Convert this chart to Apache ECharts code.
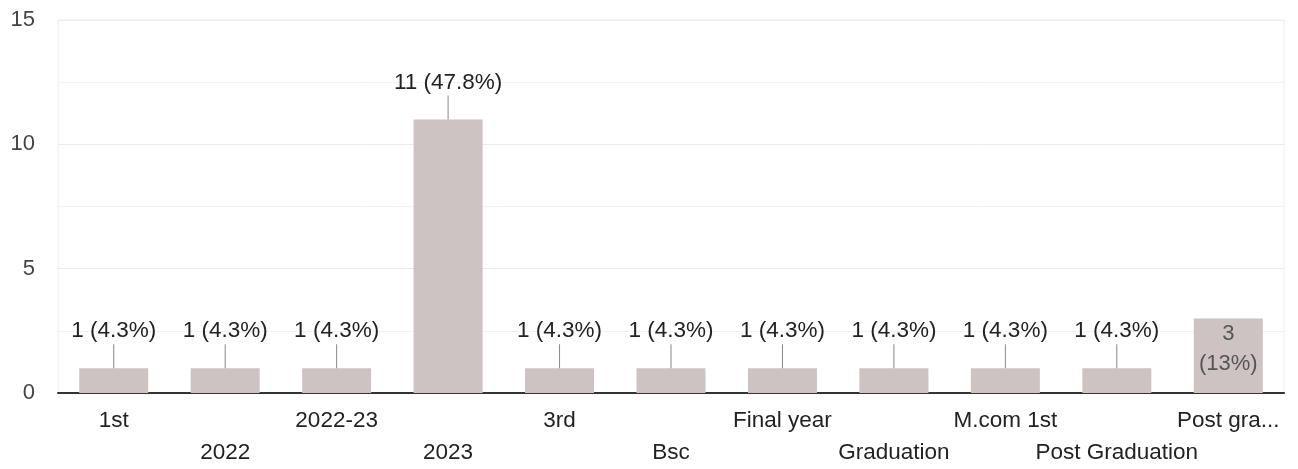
<!DOCTYPE html>
<html>
<head>
<meta charset="utf-8">
<script src="https://cdn.jsdelivr.net/npm/echarts@6/dist/echarts.min.js"></script>
<style>html,body{margin:0;padding:0;background:#fff;}#c{width:1298px;height:469px;}</style>
</head>
<body>
<div id="c"></div>
<script>
const categories = ['1st', '2022', '2022-23', '2023', '3rd', 'Bsc', 'Final year', 'Graduation', 'M.com 1st', 'Post Graduation', 'Post gra...'];
const counts = [1, 1, 1, 11, 1, 1, 1, 1, 1, 1, 3];
const yTicks = [0, 5, 10, 15];

const total = counts.reduce((a, b) => a + b, 0);
function pct(v) {
  let s = (v / total * 100).toFixed(1);
  if (s.endsWith('.0')) s = s.slice(0, -2);
  return s + '%';
}
const FONT = 'Liberation Sans';
const chart = echarts.init(document.getElementById('c'), null, {renderer: 'canvas'});
const data = counts.map((v, i) => {
  if (i === counts.length - 1) {
    return {
      value: v,
      label: {
        position: 'insideTop', distance: 1, color: '#555', fontSize: 22, lineHeight: 30,
        formatter: p => p.value + '\n(' + pct(p.value) + ')'
      }
    };
  }
  return v;
});
chart.setOption({
  animation: false,
  grid: {left: 58, right: 14, top: 20, bottom: 76, show: true, borderColor: '#eeeeee', borderWidth: 1},
  xAxis: {
    type: 'category',
    data: categories,
    axisLine: {lineStyle: {color: '#333', width: 2}},
    axisTick: {show: false},
    axisLabel: {
      interval: 0, margin: 12, fontFamily: FONT, fontSize: 22.5, color: '#222', lineHeight: 32,
      formatter: (v, i) => (i % 2 === 1 ? '\n' + v : v)
    }
  },
  yAxis: {
    type: 'value', min: yTicks[0], max: yTicks[yTicks.length - 1], interval: 5,
    axisLine: {show: false}, axisTick: {show: false},
    axisLabel: {margin: 23, fontFamily: FONT, fontSize: 22, color: '#444'},
    splitLine: {lineStyle: {color: '#ebebeb', width: 1}},
    minorTick: {show: false, splitNumber: 2},
    minorSplitLine: {show: true, lineStyle: {color: '#f2f2f2', width: 1}}
  },
  series: [{
    type: 'bar',
    data: data,
    barWidth: 69,
    itemStyle: {color: '#cdc3c3'},
    label: {
      show: true, position: 'top', distance: 0, fontFamily: FONT, fontSize: 22.5, color: '#222',
      formatter: p => '{t|' + p.value + ' (' + pct(p.value) + ')}\n{l|}',
      rich: {
        t: {fontFamily: FONT, fontSize: 22.5, color: '#222', lineHeight: 26, align: 'center'},
        l: {width: 1, height: 24, backgroundColor: '#888', align: 'center'}
      }
    }
  }]
});
</script>
</body>
</html>
